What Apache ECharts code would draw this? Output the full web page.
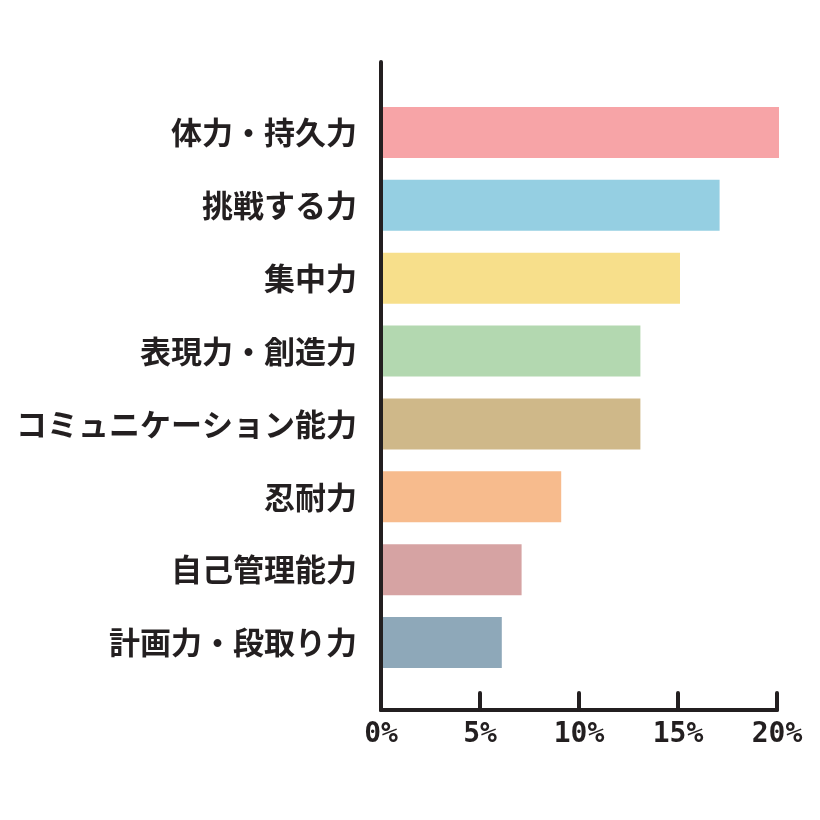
<!DOCTYPE html>
<html>
<head>
<meta charset="utf-8">
<script src="https://cdn.jsdelivr.net/npm/echarts@6/dist/echarts.min.js"></script>
<style>
html,body{margin:0;padding:0;background:#fff;}
#chart{width:820px;height:820px;}
</style>
</head>
<body>
<div id="chart"></div>
<script>
var chartDom = document.getElementById('chart');
var myChart = echarts.init(chartDom);

// 項目と割合(%)
var categories = ['体力・持久力','挑戦する力','集中力','表現力・創造力','コミュニケーション能力','忍耐力','自己管理能力','計画力・段取り力'];
var values = [20, 17, 15, 13, 13, 9, 7, 6];
var barColors = ['#f7a4a7','#95cfe2','#f7df8b','#b3d8b0','#cfb889','#f7bb8d','#d6a3a3','#8ea8b9'];
var xTicks = [0, 5, 10, 15, 20];

var axisColor = '#231f20';

var option = {
    backgroundColor: '#fff',
    animation: false,
    grid: [
        // bars
        {left: 383, right: 41, top: 96, bottom: 141},
        // axis frame
        {left: 381, right: 43, top: 62, bottom: 110}
    ],
    xAxis: [{
        gridIndex: 0,
        type: 'value',
        min: xTicks[0],
        max: xTicks[xTicks.length - 1],
        interval: 5,
        show: false
    }, {
        gridIndex: 1,
        type: 'value',
        min: xTicks[0],
        max: xTicks[xTicks.length - 1],
        interval: 5,
        axisLine: {show: true, lineStyle: {color: axisColor, width: 4, cap: 'round'}},
        axisTick: {show: true, inside: true, length: 17, lineStyle: {color: axisColor, width: 4, cap: 'round'}},
        splitLine: {show: false},
        axisLabel: {
            margin: 11,
            color: axisColor,
            fontFamily: 'DejaVu Sans Mono',
            fontWeight: 'bold',
            fontSize: 28,
            formatter: '{value}%'
        }
    }],
    yAxis: [{
        gridIndex: 0,
        type: 'category',
        inverse: true,
        data: categories,
        axisLine: {show: false},
        axisTick: {show: false},
        axisLabel: {
            margin: 26,
            color: axisColor,
            fontFamily: 'Noto Sans CJK JP',
            fontWeight: 'bold',
            fontSize: 31
        }
    }, {
        gridIndex: 1,
        type: 'category',
        data: [],
        axisLine: {show: true, lineStyle: {color: axisColor, width: 4, cap: 'round'}},
        axisTick: {show: false},
        axisLabel: {show: false}
    }],
    series: [{
        type: 'bar',
        xAxisIndex: 0,
        yAxisIndex: 0,
        barWidth: 51,
        data: values.map(function (v, i) {
            return {value: v, itemStyle: {color: barColors[i]}};
        })
    }]
};

option && myChart.setOption(option);
</script>
</body>
</html>
